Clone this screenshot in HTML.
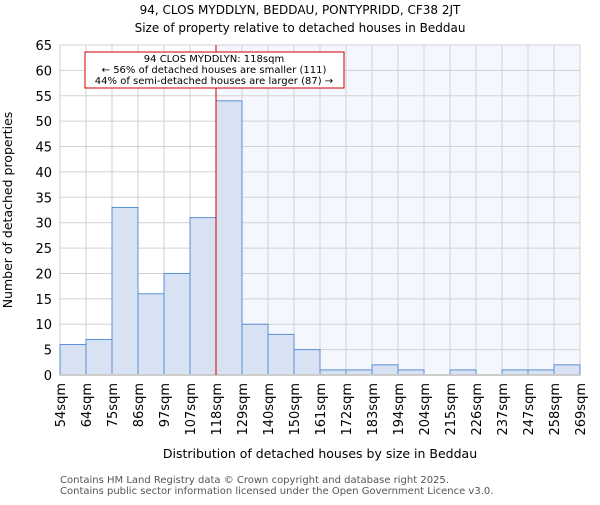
<!DOCTYPE html>
<html><head><meta charset="utf-8"><style>body{margin:0;background:#fff}svg{font-family:"DejaVu Sans","Liberation Sans",sans-serif}</style></head><body>
<svg width="600" height="500" viewBox="0 0 600 500" id="c">
<text x="300" y="14" text-anchor="middle" font-size="12">94, CLOS MYDDLYN, BEDDAU, PONTYPRIDD, CF38 2JT</text>
<text x="300" y="32" text-anchor="middle" font-size="12">Size of property relative to detached houses in Beddau</text>
<text transform="translate(12,210) rotate(-90)" text-anchor="middle" font-size="12.5">Number of detached properties</text>
<text x="320" y="458" text-anchor="middle" font-size="12.5">Distribution of detached houses by size in Beddau</text>
<text x="60" y="483" font-size="10" fill="#555">Contains HM Land Registry data © Crown copyright and database right 2025.</text>
<text x="60" y="494" font-size="10" fill="#555">Contains public sector information licensed under the Open Government Licence v3.0.</text>
<g id="plot"></g>
</svg>
<script>
const categories=["54sqm","64sqm","75sqm","86sqm","97sqm","107sqm","118sqm","129sqm","140sqm","150sqm","161sqm","172sqm","183sqm","194sqm","204sqm","215sqm","226sqm","237sqm","247sqm","258sqm","269sqm"];
const values=[6,7,33,16,20,31,54,10,8,5,1,1,2,1,0,1,0,1,1,2];
const yTicks=[0,5,10,15,20,25,30,35,40,45,50,55,60,65];
const markerIndex=6;
const X0=60,X1=580,Y0=375,Y1=45,ymax=65;
const bw=(X1-X0)/values.length;
const xs=i=>X0+i*bw, ys=v=>Y0-(Y0-Y1)*v/ymax;
const g=document.getElementById('plot');const NS="http://www.w3.org/2000/svg";
function mk(t,a,txt){const e=document.createElementNS(NS,t);for(const k in a)e.setAttribute(k,a[k]);if(txt!=null)e.textContent=txt;g.appendChild(e);return e;}
let e=mk('rect',{x:xs(markerIndex),y:Y1,width:X1-xs(markerIndex),height:Y0-Y1,fill:'#f5f7fe'});


yTicks.forEach(t=>{let l=mk('line',{x1:X0,x2:X1,y1:ys(t),y2:ys(t),stroke:'#d2d2d2'});


let tx=mk('text',{x:X0-8,y:ys(t)+5,'text-anchor':'end','font-size':13},t);

});
categories.forEach((c,i)=>{let l=mk('line',{x1:xs(i),x2:xs(i),y1:Y1,y2:Y0,stroke:'#d2d2d2'});


let tx=mk('text',{transform:`translate(${xs(i)+5},${Y0+8}) rotate(-90)`,'text-anchor':'end','font-size':13},c);

});
values.forEach((v,i)=>{if(v<=0)return;let r=mk('rect',{x:xs(i),y:ys(v),width:bw,height:Y0-ys(v),fill:'#d8e2f3',stroke:'#5a8fd6','stroke-width':1});

});
let ax=mk('line',{x1:X0,x2:X1,y1:Y0,y2:Y0,stroke:'#ccc','stroke-width':2});


let ml=mk('line',{x1:xs(markerIndex),x2:xs(markerIndex),y1:Y1,y2:Y0,stroke:'#cc0000','stroke-width':1});


let box=mk('rect',{x:85,y:52,width:259,height:36,fill:'#fff',stroke:'#cc0000'});


[["94 CLOS MYDDLYN: 118sqm",62],["← 56% of detached houses are smaller (111)",73],["44% of semi-detached houses are larger (87) →",84]].forEach(([s,y])=>{let t=mk('text',{x:214,y:y,'text-anchor':'middle','font-size':10},s);

});
</script>
</body></html>
